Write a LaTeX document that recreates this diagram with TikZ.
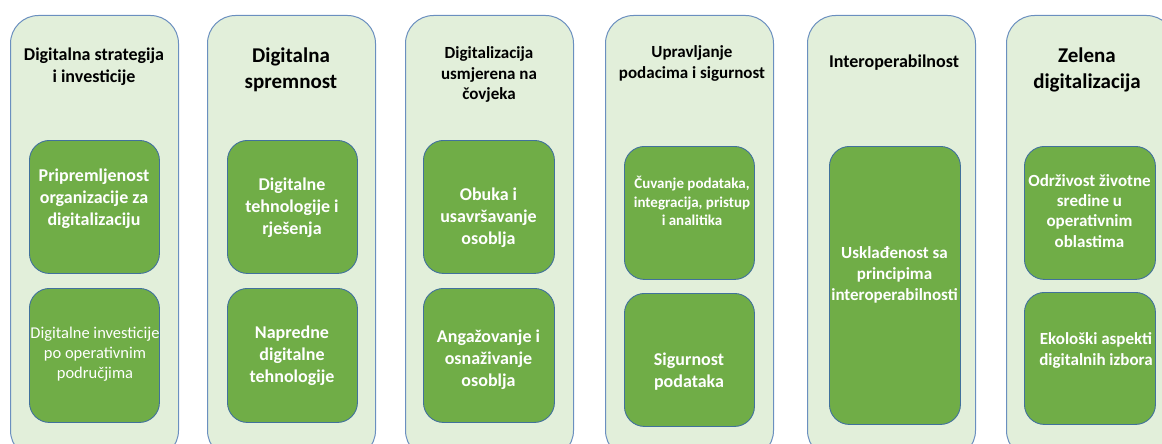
\documentclass[tikz,border=0pt]{standalone}
\usepackage{fontspec}
\setmainfont{Carlito}
\definecolor{outerfill}{HTML}{E2EFDA}
\definecolor{outerline}{HTML}{6A8FBF}
\definecolor{innerfill}{HTML}{70AD47}
\definecolor{innerline}{HTML}{41719C}
\tikzset{
  column/.style={draw=outerline, fill=outerfill, line width=1pt, rounded corners=28pt,
    minimum width=168pt, minimum height=443pt, inner sep=0pt, anchor=north west},
  card/.style={draw=innerline, fill=innerfill, line width=0.9pt, rounded corners=20pt,
    inner sep=0pt, anchor=north west},
  ttl/.style={text=black, align=center, inner sep=0pt, font=\bfseries},
  cardtxt/.style={text=white, align=center, inner sep=0pt, font=\bfseries},
  fA/.style={font=\fontsize{18}{22}\selectfont\bfseries},
  fB/.style={font=\fontsize{21}{25.6}\selectfont\bfseries},
  fC/.style={font=\fontsize{17}{20.8}\selectfont\bfseries},
}
\begin{document}
\begin{tikzpicture}[x=1pt,y=-1pt]
\useasboundingbox (0,0) rectangle (1162,444);
\clip (0,0) rectangle (1162,444);
% columns
\node[column] (c1) at (10,15) {};
\node[column] (c2) at (207,15) {};
\node[column] (c3) at (405,15) {};
\node[column] (c4) at (605,15) {};
\node[column] (c5) at (807,15) {};
\node[column] (c6) at (1006,15) {};
% titles
\node[ttl,fA] (t1) at (94,66.5) {Digitalna strategija\\i investicije};
\node[ttl,fB] (t2) at (291,69.8) {Digitalna\\spremnost};
\node[ttl,fC] (t3) at (489,74.5) {Digitalizacija\\usmjerena na\\čovjeka};
\node[ttl,fC] (t4) at (692,63.2) {Upravljanje\\podacima i sigurnost};
\node[ttl,fA] (t5) at (894,63) {Interoperabilnost};
\node[ttl,fB] (t6) at (1087,69.8) {Zelena\\digitalizacija};
% cards
\node[card, minimum width=130pt, minimum height=133pt] (b1a) at (29,140) {};
\node[card, minimum width=130pt, minimum height=134pt] (b1b) at (29,288) {};
\node[card, minimum width=130pt, minimum height=133pt] (b2a) at (227,140) {};
\node[card, minimum width=130pt, minimum height=134pt] (b2b) at (227,288) {};
\node[card, minimum width=131pt, minimum height=133pt] (b3a) at (423,140) {};
\node[card, minimum width=131pt, minimum height=134pt] (b3b) at (423,288) {};
\node[card, minimum width=130pt, minimum height=133pt] (b4a) at (624,146) {};
\node[card, minimum width=130pt, minimum height=133pt] (b4b) at (624,293) {};
\node[card, minimum width=131pt, minimum height=278pt] (b5) at (829,146) {};
\node[card, minimum width=131pt, minimum height=133pt] (b6a) at (1024,146) {};
\node[card, minimum width=131pt, minimum height=132pt] (b6b) at (1024,292) {};
% card texts
\node[cardtxt,fA] (x1a) at (94,199) {Pripremljenost\\organizacije za\\digitalizaciju};
\node[cardtxt,font=\fontsize{16.5}{20}\selectfont] (x1b) at (95,354) {Digitalne investicije\\po operativnim\\područjima};
\node[cardtxt,fA] (x2a) at (292,207.5) {Digitalne\\tehnologije i\\rješenja};
\node[cardtxt,fA] (x2b) at (292,356) {Napredne\\digitalne\\tehnologije};
\node[cardtxt,fA] (x3a) at (488.5,217.5) {Obuka i\\usavršavanje\\osoblja};
\node[cardtxt,fA] (x3b) at (488.5,359.5) {Angažovanje i\\osnaživanje\\osoblja};
\node[cardtxt,font=\fontsize{15}{18.5}\selectfont\bfseries] (x4a) at (692,201) {Čuvanje podataka,\\integracija, pristup\\i analitika};
\node[cardtxt,fA] (x4b) at (689,372) {Sigurnost\\podataka};
\node[cardtxt,fC] (x5) at (894.5,274.7) {Usklađenost sa\\principima\\interoperabilnosti};
\node[cardtxt,font=\fontsize{17}{20.3}\selectfont\bfseries] (x6a) at (1089.5,210.7) {Održivost životne\\sredine u\\operativnim\\oblastima};
\node[cardtxt,fC] (x6b) at (1096,350.7) {Ekološki aspekti\\digitalnih izbora};
\end{tikzpicture}
\end{document}
